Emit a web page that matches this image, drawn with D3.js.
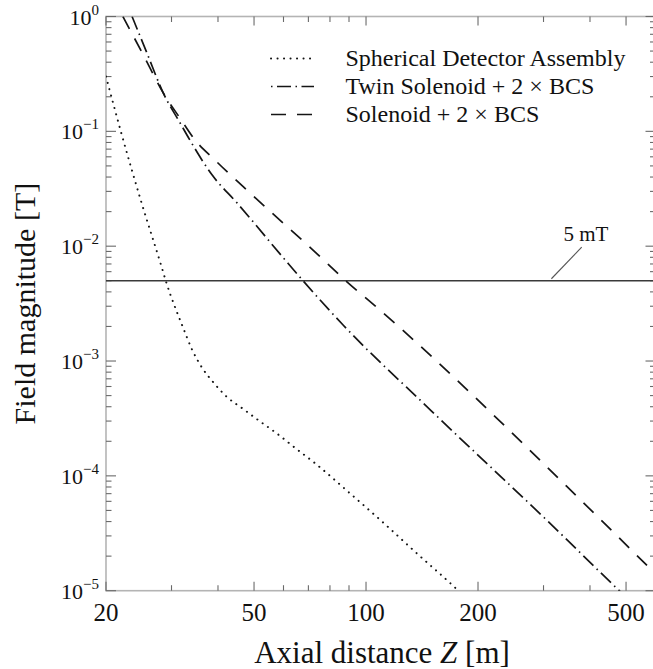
<!DOCTYPE html>
<html>
<head>
<meta charset="utf-8">
<script src="https://cdn.jsdelivr.net/npm/d3@7"></script>
<style>
  html, body { margin: 0; padding: 0; background: #fff; }
  svg { display: block; }
  text { font-family: "Liberation Serif", "Times New Roman", serif; fill: #111; }
</style>
</head>
<body>
<svg id="chart" width="653" height="669"></svg>
<script>
// Field magnitude along the axis, [Z in m, B in T]
const sphericalDetector = [
  [20.0, 0.30], [22.0, 0.096], [24.9, 0.0241], [28.1, 6.9e-3], [29.1, 4.75e-3],
  [32.1, 2.02e-3], [34.1, 1.25e-3], [36.2, 8.8e-4], [38.9, 6.5e-4], [42.2, 4.89e-4],
  [46.5, 3.87e-4], [51.3, 3.06e-4], [58.3, 2.27e-4], [64.2, 1.77e-4], [72.9, 1.29e-4],
  [90.5, 7.05e-5], [111.3, 3.91e-5], [136.8, 2.12e-5], [174.2, 1.05e-5], [185, 8.7e-6]
];
const twinSolenoid = [
  [23.5, 1.0], [25.8, 0.476], [28.5, 0.216], [31.6, 0.119], [33.6, 0.0841], [38.5, 0.042],
  [45.0, 0.0238], [60.6, 7.59e-3], [67.7, 5.0e-3], [86.9, 2.05e-3], [150, 3.67e-4],
  [309, 3.99e-5], [472, 1.05e-5], [600, 5.0e-6]
];
const solenoid = [
  [22.2, 1.0], [25.2, 0.462], [28.5, 0.216], [31.6, 0.1306], [34.7, 0.0841],
  [39.3, 0.0560], [48.8, 0.029], [74.1, 8.5e-3], [88.2, 5.0e-3], [105.2, 3.07e-3],
  [410.6, 4.72e-5], [574, 1.62e-5], [600, 1.41e-5]
];

const legendLabels = ["Spherical Detector Assembly", "Twin Solenoid + 2 \u00d7 BCS", "Solenoid + 2 \u00d7 BCS"];
const xTickLabels = [20, 50, 100, 200, 500];
const xMinorTicks = [30, 40, 60, 70, 80, 90, 300, 400, 600];
const yDecades = [0, -1, -2, -3, -4, -5];
const threshold = 5e-3;           // 5 mT reference level
const thresholdLabel = "5 mT";

const svg = d3.select("#chart");
const plotLeft = 106, plotRight = 655.5, plotTop = 16.5, plotBottom = 590.7;

const x = d3.scaleLog().domain([20, 600]).range([plotLeft, plotRight]);
const y = d3.scaleLog().domain([1e-5, 1]).range([plotBottom, plotTop]);

svg.append("defs").append("clipPath").attr("id", "plot")
  .append("rect").attr("x", plotLeft).attr("y", plotTop)
  .attr("width", plotRight - plotLeft).attr("height", plotBottom - plotTop);

// Frame
svg.append("rect").attr("x", plotLeft).attr("y", plotTop)
  .attr("width", plotRight - plotLeft).attr("height", plotBottom - plotTop)
  .attr("fill", "none").attr("stroke", "#b4b4b4").attr("stroke-width", 1.6);

// Ticks (inward, mirrored on all four sides)
const ticks = svg.append("g").attr("stroke", "#6a6a6a").attr("stroke-width", 1.1);
function xTick(v, len) {
  ticks.append("line").attr("x1", x(v)).attr("x2", x(v)).attr("y1", plotBottom).attr("y2", plotBottom - len);
  ticks.append("line").attr("x1", x(v)).attr("x2", x(v)).attr("y1", plotTop).attr("y2", plotTop + len);
}
xTickLabels.forEach(v => xTick(v, 9));
xMinorTicks.forEach(v => xTick(v, 5.5));

function yTick(v, len) {
  ticks.append("line").attr("y1", y(v)).attr("y2", y(v)).attr("x1", plotLeft).attr("x2", plotLeft + len);
  ticks.append("line").attr("y1", y(v)).attr("y2", y(v)).attr("x1", plotRight).attr("x2", plotRight - len);
}
yDecades.forEach(e => yTick(Math.pow(10, e), 10));
yDecades.slice(1).forEach(e => {
  for (let m = 2; m <= 9; m++) yTick(m * Math.pow(10, e), 5.5);
});

// Tick labels
const xl = svg.append("g");
xTickLabels.forEach(v => {
  xl.append("text").attr("x", x(v)).attr("y", plotBottom + 30)
    .attr("text-anchor", "middle").attr("font-size", 25).text(v);
});
const yl = svg.append("g");
yDecades.forEach(e => {
  const t = yl.append("text").attr("x", plotLeft - 7).attr("y", y(Math.pow(10, e)) + 8)
    .attr("text-anchor", "end").attr("font-size", 22);
  t.append("tspan").text("10");
  t.append("tspan").attr("dy", -10).attr("font-size", 15)
    .text(e === 0 ? "0" : "\u2212" + Math.abs(e));
});

// Axis titles
const xt = svg.append("text").attr("x", 382).attr("y", 663)
  .attr("text-anchor", "middle").attr("font-size", 31);
xt.append("tspan").text("Axial distance ");
xt.append("tspan").attr("font-style", "italic").text("Z");
xt.append("tspan").text(" [m]");

svg.append("text").attr("transform", `translate(35, ${(plotTop + plotBottom) / 2}) rotate(-90)`)
  .attr("text-anchor", "middle").attr("font-size", 30).text("Field magnitude [T]");

// 5 mT reference line
svg.append("line").attr("x1", plotLeft).attr("x2", plotRight)
  .attr("y1", y(threshold)).attr("y2", y(threshold))
  .attr("stroke", "#3a3a3a").attr("stroke-width", 1.3);
svg.append("line").attr("x1", x(315)).attr("y1", y(threshold) - 2)
  .attr("x2", x(380)).attr("y2", y(0.0098))
  .attr("stroke", "#555").attr("stroke-width", 1.1);
svg.append("text").attr("x", x(390)).attr("y", y(0.0111))
  .attr("text-anchor", "middle").attr("font-size", 21).text(thresholdLabel);

// Curves
const line = d3.line().x(d => x(d[0])).y(d => y(d[1])).curve(d3.curveMonotoneX);
const styles = [
  { data: sphericalDetector, dash: "0.1,6.4", cap: "round", width: 2.0 },
  { data: twinSolenoid, dash: "14,4.5,1.5,4.5", cap: "butt", width: 1.7 },
  { data: solenoid, dash: "14,11", cap: "butt", width: 1.7 }
];
const curves = svg.append("g").attr("clip-path", "url(#plot)");
styles.forEach(s => {
  curves.append("path").datum(s.data).attr("d", line)
    .attr("fill", "none").attr("stroke", "#151515")
    .attr("stroke-width", s.width).attr("stroke-linecap", s.cap)
    .attr("stroke-dasharray", s.dash);
});

// Legend
const legend = svg.append("g");
const legendOffsets = [0, 18.5, 0];
legendLabels.forEach((lab, i) => {
  const ly = 58.5 + i * 28;
  legend.append("line").attr("x1", 271).attr("x2", 314).attr("y1", ly).attr("y2", ly)
    .attr("stroke", "#151515").attr("stroke-width", styles[i].width)
    .attr("stroke-linecap", styles[i].cap)
    .attr("stroke-dasharray", i === 2 ? "15,11" : styles[i].dash)
    .attr("stroke-dashoffset", legendOffsets[i]);
  legend.append("text").attr("x", 345.5).attr("y", ly + 7.5)
    .attr("font-size", 24).text(lab);
});
</script>
</body>
</html>
